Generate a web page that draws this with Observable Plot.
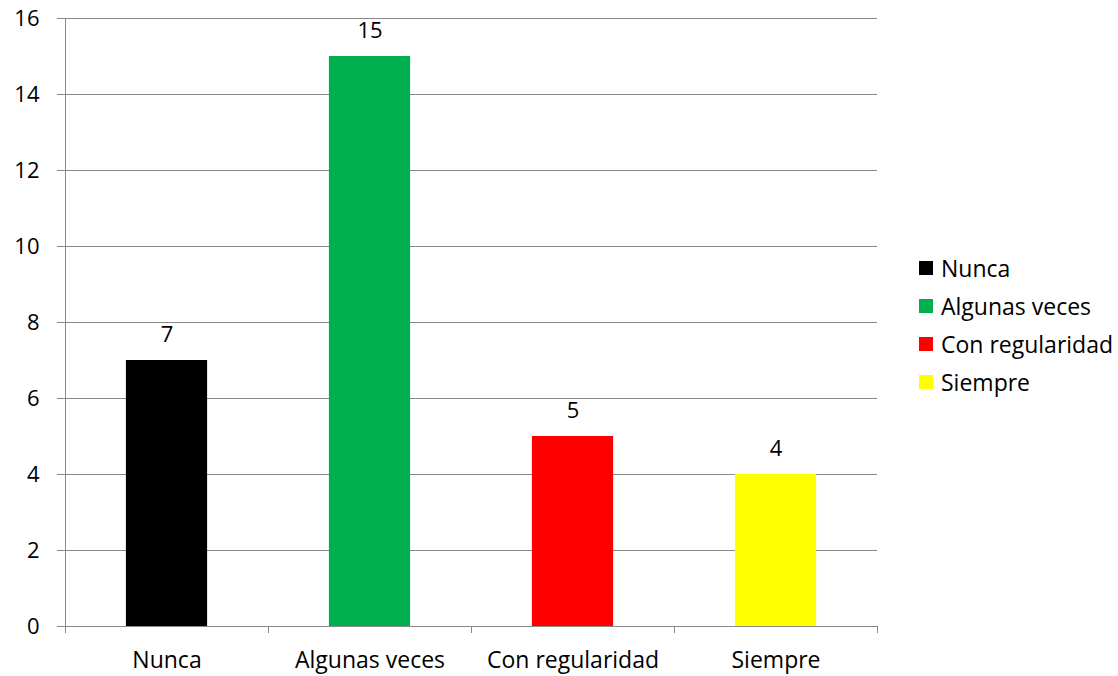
<!DOCTYPE html>
<html>
<head>
<meta charset="utf-8">
<script src="https://cdn.jsdelivr.net/npm/d3@7"></script>
<script src="https://cdn.jsdelivr.net/npm/@observablehq/plot@0.6"></script>
<style>
  html, body { margin: 0; padding: 0; background: #fff; }
  #wrap { position: relative; width: 1118px; height: 676px; font-family: "Open Sans", sans-serif; }
  #legend { position: absolute; left: 919px; top: 249px; font-size: 23px; color: #000; white-space: nowrap; }
  .item { display: flex; align-items: center; height: 38px; }
  .sw { width: 14px; height: 14px; margin-right: 8px; flex: none; }
</style>
</head>
<body>
<div id="wrap"><div id="legend"></div></div>
<script>
const categories = ["Nunca", "Algunas veces", "Con regularidad", "Siempre"];
const values = [7, 15, 5, 4];
const colors = ["#000000", "#00B050", "#FF0000", "#FFFF00"];
const yTicks = [0, 2, 4, 6, 8, 10, 12, 14, 16];

const data = categories.map((c, i) => ({cat: c, i, value: values[i], color: colors[i]}));
const bounds = d3.range(categories.length + 1);

const chart = Plot.plot({
  width: 1118,
  height: 676,
  marginLeft: 65,
  marginRight: 241,
  marginTop: 18,
  marginBottom: 50,
  style: {fontFamily: "'Open Sans', sans-serif", fontSize: "23px", color: "#000", background: "#fff", overflow: "visible"},
  x: {type: "linear", domain: [0, categories.length], axis: null},
  y: {type: "linear", domain: [0, 16], axis: null},
  marks: [
    Plot.ruleY(yTicks, {y: d => d, x1: 0, x2: categories.length, insetLeft: -8, stroke: "#888", strokeWidth: 1, strokeOpacity: 1}),
    Plot.text(yTicks, {y: d => d, x: 0, dx: -26, textAnchor: "end", text: d => String(d), fill: "#000", fontSize: 22}),
    Plot.ruleX([0], {x: d => d, y1: 0, y2: 16, stroke: "#888", strokeOpacity: 1}),
    Plot.ruleX(bounds, {x: d => d, y1: 0, y2: 0, insetBottom: -7, stroke: "#888", strokeOpacity: 1}),
    Plot.rectY(data, {x1: d => d.i + 0.3, x2: d => d.i + 0.7, y1: 0, y2: "value", fill: d => d.color}),
    Plot.text(data, {x: d => d.i + 0.5, y: "value", text: d => String(d.value), dy: -26, fill: "#000", fontSize: 22}),
    Plot.text(data, {x: d => d.i + 0.5, y: 0, text: "cat", dy: 34, fill: "#000", fontSize: 23})
  ]
});
document.getElementById("wrap").prepend(chart);

const legend = document.getElementById("legend");
data.forEach(d => {
  const row = document.createElement("div");
  row.className = "item";
  const sw = document.createElement("div");
  sw.className = "sw";
  sw.style.background = d.color;
  const lab = document.createElement("span");
  lab.textContent = d.cat;
  row.append(sw, lab);
  legend.append(row);
});
</script>
</body>
</html>
